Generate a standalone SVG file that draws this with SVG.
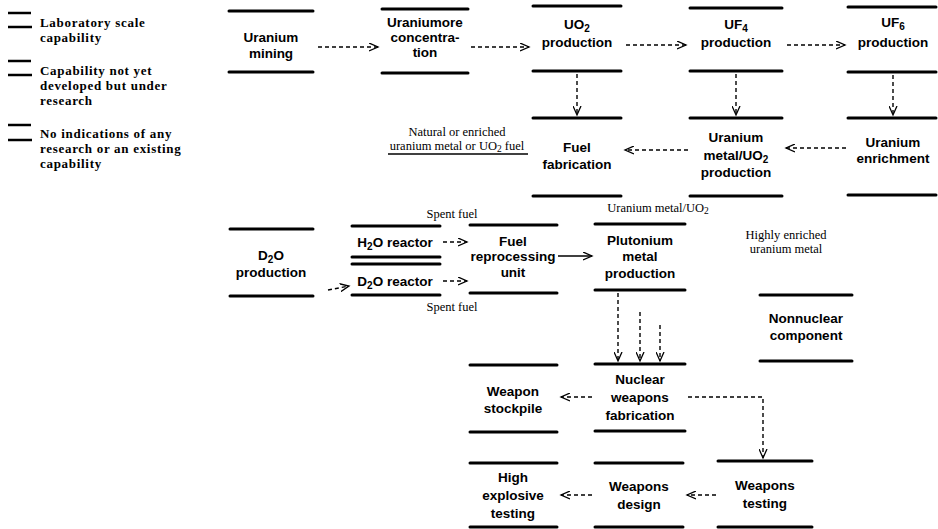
<svg xmlns="http://www.w3.org/2000/svg" width="938" height="529" viewBox="0 0 938 529">
<style>
.bar{stroke:#000;stroke-width:3;stroke-linecap:round}
.lb{stroke:#000;stroke-width:2.5}
.t{font-family:"Liberation Sans",Arial,sans-serif;font-weight:bold;font-size:13.5px;fill:#000;text-anchor:middle}
.s{font-family:"Liberation Serif","Times New Roman",serif;font-size:12.5px;fill:#000;text-anchor:middle}
.lg{font-family:"Liberation Serif","Times New Roman",serif;font-weight:bold;font-size:13px;letter-spacing:0.7px;fill:#000}
.c{stroke:#000;stroke-width:1.4;fill:none;stroke-dasharray:4 3}
.cs{stroke:#000;stroke-width:1.4;fill:none}
</style>
<defs>
<marker id="ah" markerUnits="userSpaceOnUse" markerWidth="11" markerHeight="9" refX="9" refY="4.5" orient="auto">
<path d="M0,0.5 L9,4.5 L0,8.5" fill="none" stroke="#000" stroke-width="1.3"/>
</marker>
</defs>
<rect width="938" height="529" fill="#fff"/>

<g id="legend">
<line class="lb" x1="8" y1="13" x2="31" y2="13" stroke-width="1.8"/>
<line class="lb" x1="8" y1="27" x2="32" y2="27"/>
<text class="lg" x="40" y="27">Laboratory scale</text>
<text class="lg" x="40" y="42">capability</text>
<line class="lb" x1="8" y1="61" x2="31" y2="61"/>
<line class="lb" x1="8" y1="75" x2="32" y2="75"/>
<text class="lg" x="40" y="75">Capability not yet</text>
<text class="lg" x="40" y="90">developed but under</text>
<text class="lg" x="40" y="105">research</text>
<line class="lb" x1="8" y1="125" x2="31" y2="125"/>
<line class="lb" x1="8" y1="140" x2="32" y2="140" stroke-width="1.8"/>
<text class="lg" x="40" y="138">No indications of any</text>
<text class="lg" x="40" y="153">research or an existing</text>
<text class="lg" x="40" y="168">capability</text>
</g>

<g id="n-uranium-mining">
<line class="bar" x1="229" y1="11" x2="313" y2="11"/><line class="bar" x1="229" y1="72" x2="313" y2="72"/>
<text class="t" x="271" y="42">Uranium</text><text class="t" x="271" y="58">mining</text>
</g>
<g id="n-ore-concentration">
<line class="bar" x1="382" y1="9" x2="468" y2="9"/><line class="bar" x1="382" y1="73" x2="468" y2="73"/>
<text class="t" x="425" y="27">Uraniumore</text><text class="t" x="425" y="42">concentra-</text><text class="t" x="425" y="57">tion</text>
</g>
<g id="n-uo2-production">
<line class="bar" x1="533" y1="6" x2="621" y2="6"/><line class="bar" x1="533" y1="71" x2="621" y2="71"/>
<text class="t" x="577" y="29">UO<tspan dy="3" font-size="10">2</tspan></text><text class="t" x="577" y="47">production</text>
</g>
<g id="n-uf4-production">
<line class="bar" x1="690" y1="8" x2="782" y2="8"/><line class="bar" x1="690" y1="71" x2="782" y2="71"/>
<text class="t" x="736" y="29">UF<tspan dy="3" font-size="10">4</tspan></text><text class="t" x="736" y="47">production</text>
</g>
<g id="n-uf6-production">
<line class="bar" x1="848" y1="7" x2="936" y2="7"/><line class="bar" x1="848" y1="72" x2="936" y2="72"/>
<text class="t" x="893" y="27">UF<tspan dy="3" font-size="10">6</tspan></text><text class="t" x="893" y="47">production</text>
</g>
<g id="n-fuel-fabrication">
<line class="bar" x1="533" y1="118" x2="621" y2="118"/><line class="bar" x1="533" y1="196" x2="621" y2="196"/>
<text class="t" x="577" y="152">Fuel</text><text class="t" x="577" y="169">fabrication</text>
</g>
<g id="n-uranium-metal">
<line class="bar" x1="690" y1="118" x2="782" y2="118"/><line class="bar" x1="690" y1="196" x2="782" y2="196"/>
<text class="t" x="736" y="142">Uranium</text><text class="t" x="736" y="160">metal/UO<tspan dy="3" font-size="10">2</tspan></text><text class="t" x="736" y="177">production</text>
</g>
<g id="n-enrichment">
<line class="bar" x1="848" y1="118" x2="936" y2="118"/><line class="bar" x1="848" y1="195" x2="936" y2="195"/>
<text class="t" x="893" y="147">Uranium</text><text class="t" x="893" y="163">enrichment</text>
</g>
<g id="n-d2o-production">
<line class="bar" x1="230" y1="229" x2="313" y2="229"/><line class="bar" x1="230" y1="296" x2="313" y2="296"/>
<text class="t" x="271" y="260">D<tspan dy="3" font-size="10">2</tspan><tspan dy="-3">O</tspan></text><text class="t" x="271" y="277">production</text>
</g>
<g id="n-h2o-reactor">
<line class="bar" x1="352" y1="226" x2="440" y2="226"/><line class="bar" x1="352" y1="257" x2="440" y2="257"/>
<text class="t" x="395" y="247">H<tspan dy="3" font-size="10">2</tspan><tspan dy="-3">O reactor</tspan></text>
</g>
<g id="n-d2o-reactor">
<line class="bar" x1="352" y1="264" x2="440" y2="264"/><line class="bar" x1="352" y1="295" x2="440" y2="295"/>
<text class="t" x="395" y="286">D<tspan dy="3" font-size="10">2</tspan><tspan dy="-3">O reactor</tspan></text>
</g>
<g id="n-fuel-reprocessing">
<line class="bar" x1="470" y1="225" x2="557" y2="225"/><line class="bar" x1="470" y1="293" x2="557" y2="293"/>
<text class="t" x="513" y="246">Fuel</text><text class="t" x="513" y="261">reprocessing</text><text class="t" x="513" y="277">unit</text>
</g>
<g id="n-plutonium">
<line class="bar" x1="595" y1="224" x2="685" y2="224"/><line class="bar" x1="595" y1="290" x2="685" y2="290"/>
<text class="t" x="640" y="245">Plutonium</text><text class="t" x="640" y="261">metal</text><text class="t" x="640" y="278">production</text>
</g>
<g id="n-nonnuclear">
<line class="bar" x1="760" y1="295" x2="852" y2="295"/><line class="bar" x1="760" y1="361" x2="852" y2="361"/>
<text class="t" x="806" y="323">Nonnuclear</text><text class="t" x="806" y="340">component</text>
</g>
<g id="n-stockpile">
<line class="bar" x1="470" y1="365" x2="557" y2="365"/><line class="bar" x1="470" y1="432" x2="557" y2="432"/>
<text class="t" x="513" y="396">Weapon</text><text class="t" x="513" y="413">stockpile</text>
</g>
<g id="n-weapons-fabrication">
<line class="bar" x1="595" y1="364" x2="685" y2="364"/><line class="bar" x1="595" y1="431" x2="685" y2="431"/>
<text class="t" x="640" y="384">Nuclear</text><text class="t" x="640" y="402">weapons</text><text class="t" x="640" y="420">fabrication</text>
</g>
<g id="n-he-testing">
<line class="bar" x1="470" y1="463" x2="557" y2="463"/><line class="bar" x1="470" y1="527" x2="557" y2="527"/>
<text class="t" x="513" y="482">High</text><text class="t" x="513" y="500">explosive</text><text class="t" x="513" y="518">testing</text>
</g>
<g id="n-weapons-design">
<line class="bar" x1="595" y1="463" x2="683" y2="463"/><line class="bar" x1="595" y1="527" x2="683" y2="527"/>
<text class="t" x="639" y="491">Weapons</text><text class="t" x="639" y="509">design</text>
</g>
<g id="n-weapons-testing">
<line class="bar" x1="718" y1="461" x2="812" y2="461"/><line class="bar" x1="718" y1="527" x2="812" y2="527"/>
<text class="t" x="765" y="490">Weapons</text><text class="t" x="765" y="508">testing</text>
</g>

<g id="labels">
<text class="s" x="457" y="136">Natural or enriched</text>
<text class="s" x="457" y="150">uranium metal or UO<tspan dy="2" font-size="9.5">2</tspan><tspan dy="-2"> fuel</tspan></text>
<text class="s" x="452" y="218">Spent fuel</text>
<text class="s" x="452" y="311">Spent fuel</text>
<text class="s" x="658" y="212">Uranium metal/UO<tspan dy="2" font-size="9.5">2</tspan></text>
<text class="s" x="786" y="239">Highly enriched</text>
<text class="s" x="786" y="253">uranium metal</text>
</g>

<g id="connectors">
<line class="c" x1="318" y1="47" x2="378" y2="47" marker-end="url(#ah)"/>
<line class="c" x1="471" y1="47" x2="529" y2="47" marker-end="url(#ah)"/>
<line class="c" x1="626" y1="45" x2="686" y2="45" marker-end="url(#ah)"/>
<line class="c" x1="787" y1="45" x2="845" y2="45" marker-end="url(#ah)"/>
<line class="c" x1="577" y1="74" x2="577" y2="115" marker-end="url(#ah)"/>
<line class="c" x1="736" y1="74" x2="736" y2="115" marker-end="url(#ah)"/>
<line class="c" x1="893" y1="75" x2="893" y2="115" marker-end="url(#ah)"/>
<line class="c" x1="846" y1="148" x2="786" y2="148" marker-end="url(#ah)"/>
<line class="c" x1="688" y1="150" x2="625" y2="150" marker-end="url(#ah)"/>
<line class="cs" x1="528" y1="154" x2="388" y2="154"/>
<line class="c" x1="328" y1="290" x2="349" y2="286" marker-end="url(#ah)"/>
<line class="c" x1="443" y1="242" x2="467" y2="242" marker-end="url(#ah)"/>
<line class="c" x1="443" y1="281" x2="467" y2="281" marker-end="url(#ah)"/>
<line class="cs" x1="558" y1="256" x2="592" y2="256" marker-end="url(#ah)"/>
<line class="c" x1="618" y1="293" x2="618" y2="361" marker-end="url(#ah)"/>
<line class="c" x1="640" y1="312" x2="640" y2="361" marker-end="url(#ah)"/>
<line class="c" x1="660" y1="325" x2="660" y2="361" marker-end="url(#ah)"/>
<line class="c" x1="592" y1="397" x2="561" y2="397" marker-end="url(#ah)"/>
<path class="c" d="M688,397 H763 V458" marker-end="url(#ah)"/>
<line class="c" x1="716" y1="495" x2="687" y2="495" marker-end="url(#ah)"/>
<line class="c" x1="592" y1="495" x2="561" y2="495" marker-end="url(#ah)"/>
</g>
</svg>
